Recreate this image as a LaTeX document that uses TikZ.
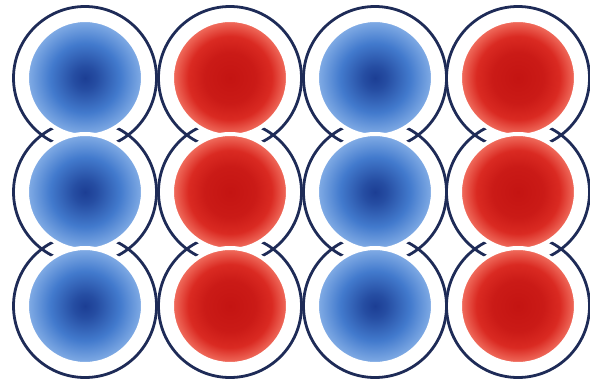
\documentclass[tikz,border=0pt]{standalone}
\usepackage{xcolor}
\usetikzlibrary{positioning}
\definecolor{ringblue}{HTML}{1E2B57}
\definecolor{blueA}{RGB}{28,62,148}
\definecolor{blueB}{RGB}{66,122,205}
\definecolor{blueC}{RGB}{132,174,230}
\definecolor{redA}{RGB}{196,20,18}
\definecolor{redB}{RGB}{218,42,34}
\definecolor{redC}{RGB}{242,114,98}
\pgfdeclareradialshading{blueball}{\pgfpoint{0bp}{0bp}}{color(0bp)=(blueA); color(5bp)=(blueA!75!blueB); color(15bp)=(blueB); color(25bp)=(blueC)}
\pgfdeclareradialshading{redball}{\pgfpoint{0bp}{0bp}}{color(0bp)=(redA); color(11bp)=(redA!70!redB); color(18bp)=(redB); color(25bp)=(redC)}
\tikzset{
  ring/.style={circle, draw=ringblue, line width=2.8pt, inner sep=0pt, minimum size=143pt},
  ball/.style={circle, draw=white, line width=4pt, inner sep=0pt, minimum size=116pt},
  bball/.style={ball, shading=blueball},
  rball/.style={ball, shading=redball},
}

\begin{document}
\begin{tikzpicture}[x=1pt,y=-1pt]
  \useasboundingbox (0,0) rectangle (590,380);
  % outer rings
  \node[ring] (R11) at (85,78) {};
  \node[ring] (R12) at (230,78) {};
  \node[ring] (R13) at (375,78) {};
  \node[ring] (R14) at (518,78) {};
  \node[ring] (R21) at (85,192) {};
  \node[ring] (R22) at (230,192) {};
  \node[ring] (R23) at (375,192) {};
  \node[ring] (R24) at (518,192) {};
  \node[ring] (R31) at (85,306) {};
  \node[ring] (R32) at (230,306) {};
  \node[ring] (R33) at (375,306) {};
  \node[ring] (R34) at (518,306) {};

  % shaded balls
  \node[bball] (B11) at (R11.center) {};
  \node[rball] (B12) at (R12.center) {};
  \node[bball] (B13) at (R13.center) {};
  \node[rball] (B14) at (R14.center) {};
  \node[bball] (B21) at (R21.center) {};
  \node[rball] (B22) at (R22.center) {};
  \node[bball] (B23) at (R23.center) {};
  \node[rball] (B24) at (R24.center) {};
  \node[bball] (B31) at (R31.center) {};
  \node[rball] (B32) at (R32.center) {};
  \node[bball] (B33) at (R33.center) {};
  \node[rball] (B34) at (R34.center) {};
\end{tikzpicture}
\end{document}
